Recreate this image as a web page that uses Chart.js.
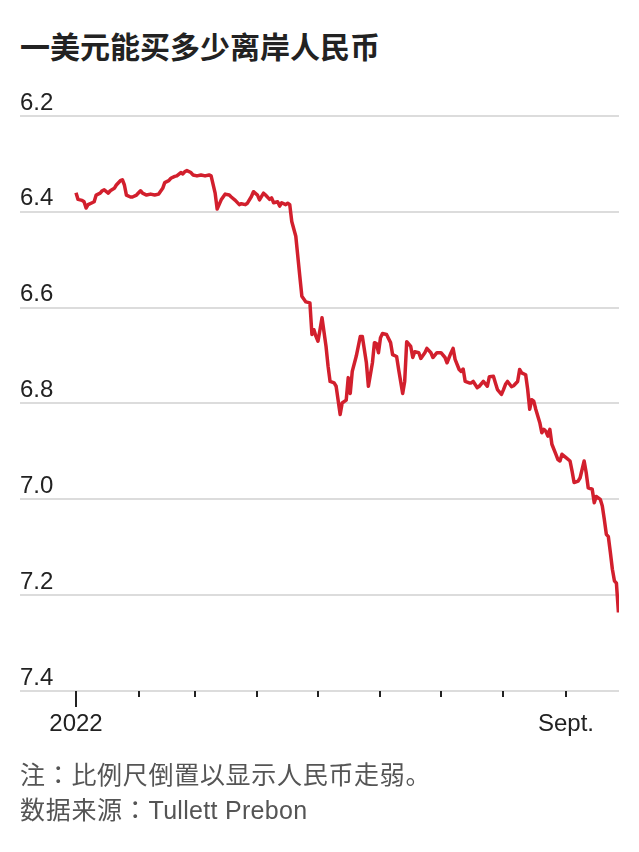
<!DOCTYPE html>
<html>
<head>
<meta charset="utf-8">
<script src="https://cdn.jsdelivr.net/npm/chart.js@4/dist/chart.umd.min.js"></script>
<style>
  html, body { margin: 0; padding: 0; background: #fff; }
  body { width: 639px; height: 852px; position: relative; overflow: hidden; }
  #chart { position: absolute; left: 0; top: 0; }
  .title { position: absolute; left: 20px; top: 30px; font: bold 30px/30px "Noto Sans CJK SC", sans-serif; color: #222; white-space: nowrap; }
  .notes { position: absolute; left: 20px; top: 756px; font: 25px/35px "Noto Sans CJK JP", "Liberation Sans", sans-serif; color: #555; white-space: nowrap; letter-spacing: 0.7px; }
  .notes span { font-family: "Liberation Sans", Arial, sans-serif; letter-spacing: 0.3px; }
</style>
</head>
<body>
<div class="title">一美元能买多少离岸人民币</div>
<canvas id="chart" width="639" height="852"></canvas>
<div class="notes">注：比例尺倒置以显示人民币走弱。<br>数据来源：<span>Tullett Prebon</span></div>
<script>
// days since 1 Jan 2022
var days = [0, 1, 3, 4, 5, 6, 8, 9, 10, 12, 13, 14, 16, 17, 19, 20, 22, 23, 24, 25, 27, 28, 30, 32, 33, 35, 37, 39, 41, 43,
    44, 46, 47, 49, 50, 52, 53, 54, 55, 57, 58, 60, 62, 64, 66, 67, 69, 70, 72, 74, 76, 77, 79, 81, 82, 84, 85, 87, 88, 90,
    91, 93, 94, 96, 97, 98, 100, 101, 102, 104, 105, 106, 107, 109, 110, 111, 112, 114, 116, 117, 118, 119, 120, 121, 122, 124, 125, 126, 128, 129,
    131, 132, 134, 135, 136, 137, 139, 141, 142, 144, 145, 147, 148, 149, 150, 151, 152, 154, 156, 157, 159, 160, 162, 163, 164, 166, 167, 168, 170, 171,
    173, 174, 176, 177, 179, 181, 183, 184, 186, 187, 188, 190, 191, 192, 193, 195, 196, 197, 199, 200, 202, 204, 205, 207, 208, 209, 211, 212, 213, 214,
    216, 217, 219, 220, 221, 223, 224, 225, 226, 227, 228, 230, 231, 232, 233, 234, 235, 236, 238, 239, 240, 241, 243, 245, 246, 247, 249, 250, 252, 253,
    254, 256, 257, 258, 260, 261, 262, 263, 264, 265, 266, 267, 268, 269];

// yuan per dollar (offshore)
var rates = [6.360, 6.374, 6.376, 6.379, 6.392, 6.385, 6.381, 6.379, 6.365, 6.361, 6.356, 6.354, 6.361, 6.356, 6.351, 6.344, 6.335, 6.333, 6.344, 6.365, 6.369, 6.369, 6.365, 6.356, 6.361, 6.365, 6.363, 6.365, 6.363, 6.351,
    6.339, 6.335, 6.330, 6.326, 6.325, 6.318, 6.321, 6.316, 6.314, 6.318, 6.323, 6.325, 6.323, 6.325, 6.323, 6.325, 6.361, 6.394, 6.375, 6.363, 6.365, 6.369, 6.376, 6.385, 6.383, 6.385, 6.382, 6.368, 6.358, 6.365,
    6.375, 6.361, 6.365, 6.374, 6.371, 6.381, 6.379, 6.388, 6.381, 6.385, 6.382, 6.385, 6.420, 6.451, 6.493, 6.535, 6.576, 6.588, 6.590, 6.656, 6.646, 6.660, 6.670, 6.646, 6.621, 6.681, 6.722, 6.754, 6.757, 6.764,
    6.823, 6.799, 6.793, 6.746, 6.779, 6.733, 6.701, 6.660, 6.660, 6.715, 6.764, 6.715, 6.673, 6.675, 6.694, 6.663, 6.654, 6.656, 6.673, 6.698, 6.702, 6.729, 6.779, 6.754, 6.671, 6.681, 6.704, 6.692, 6.694, 6.706,
    6.694, 6.685, 6.694, 6.704, 6.694, 6.694, 6.704, 6.715, 6.694, 6.685, 6.708, 6.729, 6.733, 6.728, 6.754, 6.757, 6.757, 6.754, 6.767, 6.764, 6.754, 6.764, 6.744, 6.743, 6.757, 6.771, 6.781, 6.771, 6.760, 6.754,
    6.765, 6.763, 6.754, 6.729, 6.736, 6.740, 6.771, 6.812, 6.792, 6.795, 6.812, 6.840, 6.861, 6.854, 6.858, 6.868, 6.854, 6.885, 6.906, 6.917, 6.920, 6.906, 6.913, 6.920, 6.941, 6.965, 6.962, 6.955, 6.920, 6.944,
    6.976, 6.979, 7.007, 6.994, 7.000, 7.014, 7.042, 7.073, 7.078, 7.111, 7.146, 7.170, 7.175, 7.236];

var monthStarts = [0, 31, 59, 90, 120, 151, 181, 212, 243];
var monthLabels = ['2022', '', '', '', '', '', '', '', 'Sept.'];
var yTicks = [6.2, 6.4, 6.6, 6.8, 7.0, 7.2, 7.4];

var tickFont = { family: '"Liberation Sans", Arial, sans-serif', size: 24 };

// month tick marks below the axis, the first one longer
var monthTicks = {
    id: 'monthTicks',
    afterDatasetsDraw: function (chart) {
        var xs = chart.scales.x;
        var ctx = chart.ctx;
        var base = chart.chartArea.bottom;
        ctx.save();
        ctx.strokeStyle = '#222';
        ctx.lineWidth = 2;
        monthStarts.forEach(function (d, i) {
            var px = Math.round(xs.getPixelForValue(d));
            ctx.beginPath();
            ctx.moveTo(px, base);
            ctx.lineTo(px, base + (i === 0 ? 16 : 6));
            ctx.stroke();
        });
        ctx.restore();
    }
};

var points = days.map(function (d, i) {
    return { x: d, y: rates[i] };
});

new Chart(document.getElementById('chart').getContext('2d'), {
    type: 'line',
    data: {
        datasets: [{
            data: points,
            borderColor: '#d21f2d',
            borderWidth: 3.5,
            borderJoinStyle: 'round',
            pointRadius: 0,
            tension: 0,
            fill: false
        }]
    },
    options: {
        responsive: false,
        animation: false,
        layout: { padding: { left: 20, right: 20, top: 116, bottom: 0 } },
        plugins: {
            legend: { display: false },
            tooltip: { enabled: false }
        },
        scales: {
            x: {
                type: 'linear',
                min: -27.77,
                max: 269.28,
                afterBuildTicks: function (scale) {
                    scale.ticks = monthStarts.map(function (v) { return { value: v }; });
                },
                afterFit: function (scale) { scale.height = 161; },
                grid: { display: false, drawTicks: false },
                border: { display: false },
                ticks: {
                    autoSkip: false,
                    maxRotation: 0,
                    padding: 19,
                    color: '#222',
                    font: tickFont,
                    callback: function (value) {
                        var i = monthStarts.indexOf(value);
                        return i >= 0 ? monthLabels[i] : '';
                    }
                }
            },
            y: {
                type: 'linear',
                reverse: true,
                min: 6.2,
                max: 7.4,
                afterBuildTicks: function (scale) {
                    scale.ticks = yTicks.map(function (v) { return { value: v }; });
                },
                afterFit: function (scale) { scale.width = 0; },
                grid: { color: '#dcdcdc', lineWidth: 2, drawTicks: false },
                border: { display: false },
                ticks: {
                    mirror: true,
                    padding: 0,
                    labelOffset: -13,
                    color: '#222',
                    font: tickFont,
                    callback: function (value) { return Number(value).toFixed(1); }
                }
            }
        }
    },
    plugins: [monthTicks]
});
</script>
</body>
</html>
